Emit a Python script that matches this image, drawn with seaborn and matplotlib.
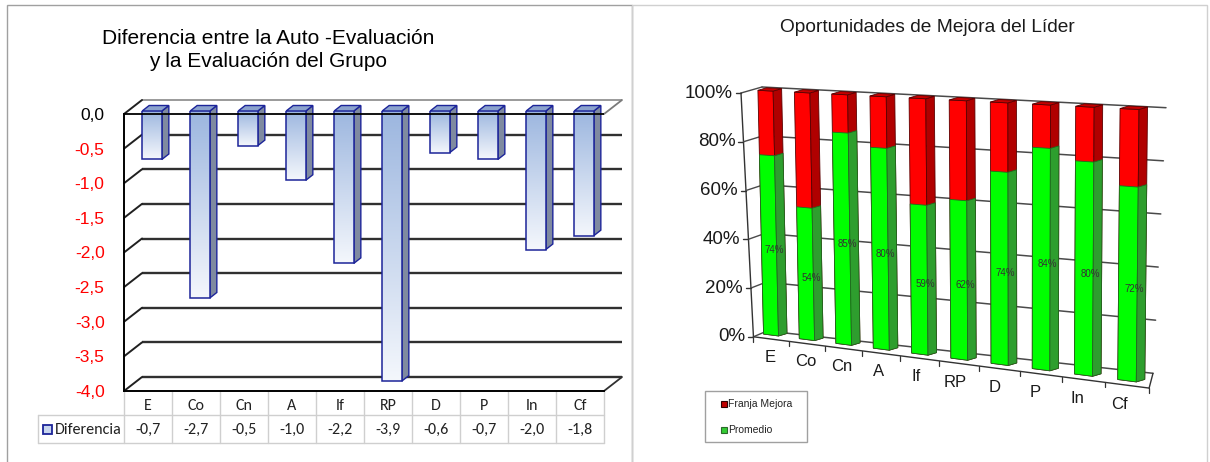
import numpy as np
import matplotlib
matplotlib.use("Agg")
import matplotlib.pyplot as plt
import matplotlib.transforms as mtransforms
from matplotlib.patches import Polygon, Rectangle
from matplotlib.lines import Line2D
from matplotlib.colors import LinearSegmentedColormap
from matplotlib import font_manager
import seaborn as sns

# ---------------------------------------------------------------- data
categorias = ["E", "Co", "Cn", "A", "If", "RP", "D", "P", "In", "Cf"]
diferencia = [-0.7, -2.7, -0.5, -1.0, -2.2, -3.9, -0.6, -0.7, -2.0, -1.8]
ticks_diferencia = [0.0, -0.5, -1.0, -1.5, -2.0, -2.5, -3.0, -3.5, -4.0]

promedio = [74, 54, 85, 80, 59, 62, 74, 84, 80, 72]
franja_mejora = [26, 46, 15, 20, 41, 38, 26, 16, 20, 28]
ticks_pct = [0, 20, 40, 60, 80, 100]

W, H = 1210, 462

sns.set_style("white")
plt.rcParams["font.family"] = ["Liberation Sans", "DejaVu Sans"]


def font_available(name):
    try:
        font_manager.findfont(font_manager.FontProperties(family=name),
                              fallback_to_default=False)
        return True
    except Exception:
        return False


NARROW = "Liberation Sans Narrow" if font_available("Liberation Sans Narrow") else "Liberation Sans"
TABLE_FONT = "Carlito" if font_available("Carlito") else "Lato"

fig = plt.figure(figsize=(W / 100, H / 100), dpi=100)
fig.patch.set_facecolor("white")
PIX = mtransforms.IdentityTransform()


def pt(x, y):
    """Pixel position measured from the top-left corner -> display coords."""
    return np.array([x, H - y], float)


def seg(ax, a, b, **kw):
    ax.add_line(Line2D([a[0], b[0]], [a[1], b[1]], transform=PIX,
                       clip_on=False, **kw))


def fmt_dec(v):
    return f"{v:.1f}".replace(".", ",")


# panel frames
fig.add_artist(Rectangle((7, -5), 625, H - 5 + 5, transform=PIX, fill=False,
                         edgecolor="#a0a0a0", lw=1.0))
fig.add_artist(Rectangle((632, -5), 575, H - 5 + 5, transform=PIX, fill=False,
                         edgecolor="#d0d0d0", lw=1.0))

# ================================================================ left chart
FX0, FX1, FY0, FY4 = 124, 604, 114, 391       # front plane of the 3-D box
ax_f = fig.add_axes([FX0 / W, 1 - FY4 / H, (FX1 - FX0) / W, (FY4 - FY0) / H])
ax_f.set_xlim(-0.5, 9.5)
ax_f.set_ylim(-4, 0)
ax_f.patch.set_visible(False)
for s in ("top", "right"):
    ax_f.spines[s].set_visible(False)
for s in ("left", "bottom"):
    ax_f.spines[s].set_color("black")
    ax_f.spines[s].set_linewidth(1.4)
ax_f.set_xticks([])
ax_f.set_yticks(ticks_diferencia)
ax_f.set_yticklabels([fmt_dec(t) for t in ticks_diferencia], fontsize=12.5)
for lbl, t in zip(ax_f.get_yticklabels(), ticks_diferencia):
    lbl.set_color("black" if t == 0 else "#ff0000")
ax_f.tick_params(axis="y", length=4, width=1.2, color="black", pad=10)

# back wall, offset in depth
BACK = np.array([18.0, 14.0])
back_tr = mtransforms.offset_copy(ax_f.transData, fig=fig, x=BACK[0], y=BACK[1], units="dots")
ax_f.hlines(ticks_diferencia[1:], -0.5, 9.5, transform=back_tr, colors="#303030",
            lw=1.7, clip_on=False)
ax_f.hlines([0.0], -0.5, 9.5, transform=back_tr, colors="#9a9a9a", lw=1.4, clip_on=False)
# side wall diagonals
for t in ticks_diferencia:
    p = ax_f.transData.transform((-0.5, t))
    seg(ax_f, p, p + BACK, color="#202020", lw=1.4)
for t in (0.0, -4.0):
    p = ax_f.transData.transform((9.5, t))
    seg(ax_f, p, p + BACK, color="#7a7a7a" if t == 0 else "#303030", lw=1.3)

# bar plane
BAR = np.array([4.0, 3.0])
ax_b = fig.add_axes([(FX0 + BAR[0]) / W, 1 - (FY4 - BAR[1]) / H,
                     (FX1 - FX0) / W, (FY4 - FY0) / H])
sns.barplot(x=categorias, y=diferencia, ax=ax_b, width=0.41, color="#a9c0e3",
            saturation=1, edgecolor="#1c2499", linewidth=1.1, errorbar=None, zorder=3)
ax_b.set_xlim(-0.5, 9.5)
ax_b.set_ylim(-4, 0)
ax_b.set_autoscale_on(False)
ax_b.axis("off")

grad_cmap = LinearSegmentedColormap.from_list("barfill", ["#9cb6df", "#f4f7fc"])
grad = np.linspace(0, 1, 256).reshape(-1, 1)
DEPTH_L = np.array([7.0, 5.5])
for bar in list(ax_b.patches):
    x0, w = bar.get_x(), bar.get_width()
    ya, yb = bar.get_y(), bar.get_y() + bar.get_height()
    top, bot = max(ya, yb), min(ya, yb)
    im = ax_b.imshow(grad, cmap=grad_cmap, extent=(x0, x0 + w, bot, top),
                     origin="upper", aspect="auto", zorder=2.9, interpolation="bilinear")
    im.set_clip_path(bar)
    bar.set_facecolor("none")
    tl, tr, br = ax_b.transData.transform([(x0, top), (x0 + w, top), (x0 + w, bot)])
    ax_b.add_patch(Polygon([tr, br, br + DEPTH_L, tr + DEPTH_L], closed=True, transform=PIX,
                           facecolor="#7f8aa0", edgecolor="#1c2499", lw=1.0,
                           zorder=2.8, clip_on=False))
    ax_b.add_patch(Polygon([tl, tr, tr + DEPTH_L, tl + DEPTH_L], closed=True, transform=PIX,
                           facecolor="#8ba2cd", edgecolor="#1c2499", lw=1.0,
                           zorder=2.8, clip_on=False))
ax_b.set_xlim(-0.5, 9.5)
ax_b.set_ylim(-4, 0)

# front edge of the floor at zero
front_tr = mtransforms.offset_copy(ax_b.transData, fig=fig, x=-BAR[0], y=-BAR[1], units="dots")
ax_b.hlines([0.0], -0.5, 9.5, transform=front_tr, colors="black", lw=1.3,
            zorder=6, clip_on=False)

# data table under the chart
tbl_tr = mtransforms.blended_transform_factory(ax_f.transData, PIX)
grid_c = "#cfcfcf"
for k in range(len(categorias) + 1):
    ax_f.add_line(Line2D([k - 0.5, k - 0.5], [H - 391, H - 443], transform=tbl_tr,
                         color=grid_c, lw=1.0, clip_on=False))
for yy in (415, 443):
    seg(ax_f, pt(38, yy), pt(FX1, yy), color=grid_c, lw=1.0)
seg(ax_f, pt(38, 415), pt(38, 443), color=grid_c, lw=1.0)
for i, (c, v) in enumerate(zip(categorias, diferencia)):
    ax_f.text(i, H - 406.5, c, transform=tbl_tr, ha="center", va="center",
              fontsize=11.5, family=TABLE_FONT, color="#222222")
    ax_f.text(i, H - 429.5, fmt_dec(v), transform=tbl_tr, ha="center", va="center",
              fontsize=11.5, family=TABLE_FONT, color="#222222")
ax_f.add_patch(Rectangle(pt(43, 434), 9, 9, transform=PIX, facecolor="#c8d6ee",
                         edgecolor="#1c2499", lw=1.3, clip_on=False))
ax_f.text(55, H - 429.5, "Diferencia", transform=PIX, ha="left", va="center",
          fontsize=11.5, family=TABLE_FONT, color="#222222")

fig.text(268 / W, 1 - 50 / H, "Diferencia entre la Auto -Evaluación\ny la Evaluación del Grupo",
         ha="center", va="center", fontsize=15, family=NARROW, linespacing=1.25,
         color="black")

# ================================================================ right chart


def solve_homography(src, dst):
    A, b = [], []
    for (x, y), (u, v) in zip(src, dst):
        A.append([x, y, 1, 0, 0, 0, -u * x, -u * y]); b.append(u)
        A.append([0, 0, 0, x, y, 1, -v * x, -v * y]); b.append(v)
    h = np.linalg.solve(np.array(A, float), np.array(b, float))
    return np.append(h, 1.0).reshape(3, 3)


class Perspective(mtransforms.Transform):
    input_dims = output_dims = 2

    def __init__(self, M):
        super().__init__()
        self.M = np.asarray(M, float)

    def transform_non_affine(self, values):
        v = np.asarray(values, float)
        flat = v.ndim == 1
        v = np.atleast_2d(v)
        p = np.column_stack([v, np.ones(len(v))]) @ self.M.T
        out = p[:, :2] / p[:, 2:3]
        return out[0] if flat else out


persp = Perspective(solve_homography(
    [(0, 0), (9, 0), (0, 100), (9, 100)],
    [pt(771, 335), pt(1127, 380.7), pt(765.5, 90.7), pt(1129.5, 109)]))


def proj(x, y):
    return persp.transform(np.array([[x, y]], float))[0]


ax_r = fig.add_axes([640 / W, 0.05, 540 / W, 0.9])
totales = [p + f for p, f in zip(promedio, franja_mejora)]
sns.barplot(x=categorias, y=totales, ax=ax_r, color="#ff0000", saturation=1, width=0.42,
            errorbar=None, edgecolor="#5a0000", linewidth=0.6)
n_red = len(ax_r.patches)
sns.barplot(x=categorias, y=promedio, ax=ax_r, color="#00ff00", saturation=1, width=0.42,
            errorbar=None, edgecolor="#1f6a1f", linewidth=0.6)
ax_r.axis("off")

# walls and floor of the 3-D box
TL, TR = pt(762, 87), pt(1166, 107.7)
BLw, BR = pt(767, 331), pt(1153, 373.3)
AT = pt(741, 93)
FL = proj(-0.5, -1.7)
FR = proj(9.5, -1.7)
wall_c = "#4a4a4a"
seg(ax_r, FL, AT, color="#333333", lw=1.0)
for v in ticks_pct:
    f = v / 100
    A_ = FL + (AT - FL) * f
    L_ = BLw + (TL - BLw) * f
    R_ = BR + (TR - BR) * f
    seg(ax_r, A_, L_, color=wall_c, lw=1.0)
    seg(ax_r, L_, R_, color=wall_c, lw=1.1)
    seg(ax_r, A_, A_ - np.array([5, 0]), color="#333333", lw=1.0)
    ax_r.text(A_[0] - 8, A_[1], f"{v}%", transform=PIX, ha="right", va="center",
              fontsize=13.5, color="#1a1a1a")
seg(ax_r, FL, FR, color="#333333", lw=1.0)
seg(ax_r, FR, BR, color="#333333", lw=1.0)
for k in range(len(categorias) + 1):
    p = proj(k - 0.5, -1.7)
    seg(ax_r, p, p - np.array([0, 5]), color="#333333", lw=0.9)

# stacked bars in perspective with side and top faces
for j, bar in enumerate(list(ax_r.patches)):
    red = j < n_red
    bar.set_transform(persp)
    bar.set_clip_on(False)
    bar.set_zorder(3 if red else 5)
    x0, w = bar.get_x(), bar.get_width()
    y0, y1 = bar.get_y(), bar.get_y() + bar.get_height()
    tl, tr, br = persp.transform(np.array([(x0, y1), (x0 + w, y1), (x0 + w, y0)], float))
    d = np.array([8.5, 2.5])
    side_c = "#b00000" if red else "#2e9e2e"
    edge_c = "#5a0000" if red else "#1f6a1f"
    ax_r.add_patch(Polygon([tr, br, br + d, tr + d], closed=True, transform=PIX,
                           facecolor=side_c, edgecolor=edge_c, lw=0.6,
                           zorder=3.2 if red else 5.2, clip_on=False))
    if red:
        ax_r.add_patch(Polygon([tl, tr, tr + d, tl + d], closed=True, transform=PIX,
                               facecolor="#c40000", edgecolor=edge_c, lw=0.6,
                               zorder=3.2, clip_on=False))

for i, v in enumerate(promedio):
    ax_r.text(i + 0.15, v / 2 - 1.5, f"{v}%", transform=persp, ha="center", va="center",
              fontsize=7, color="#333333", zorder=8)

lab_tr = mtransforms.Affine2D().scale(0.985, 1).translate(-0.03, 0) + persp
for i, c in enumerate(categorias):
    ax_r.text(i, -9.3, c, transform=lab_tr, ha="center", va="center",
              fontsize=12, color="#1a1a1a")

# legend
fig.add_artist(Rectangle(pt(705, 442), 102, 51, transform=PIX, fill=True,
                         facecolor="white", edgecolor="#a0a0a0", lw=1.0))
for yy, col, ec, name in ((404, "#c00000", "#300000", "Franja Mejora"),
                          (430, "#33cc33", "#2a6a2a", "Promedio")):
    fig.add_artist(Rectangle(pt(720.5, yy + 3), 6, 6, transform=PIX,
                             facecolor=col, edgecolor=ec, lw=0.8))
    fig.text(728 / W, 1 - yy / H, name, ha="left", va="center", fontsize=7.5,
             color="#222222")

fig.text(927 / W, 1 - 28 / H, "Oportunidades de Mejora del Líder", ha="center", va="center",
         fontsize=13.8, color="#1a1a1a")

fig.savefig("out.png", dpi=100, facecolor="white")
